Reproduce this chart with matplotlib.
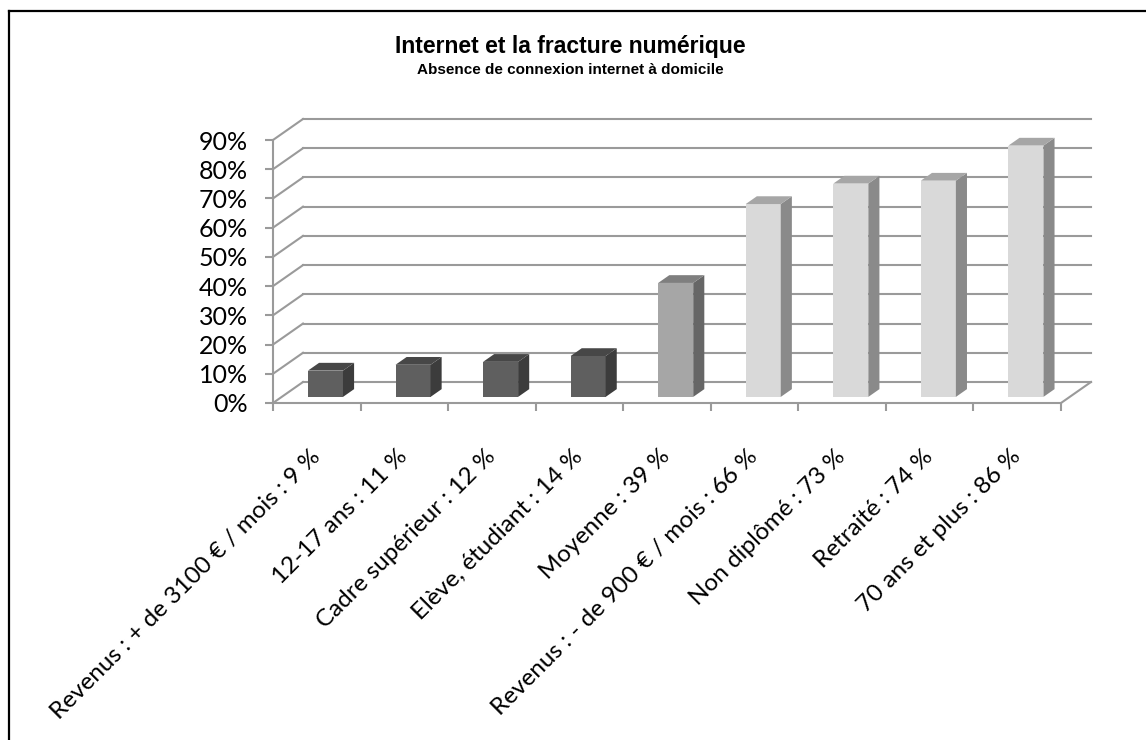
import matplotlib
matplotlib.use("Agg")
import matplotlib.pyplot as plt
from matplotlib.patches import Polygon
from matplotlib.lines import Line2D

# données
categories = ["Revenus : + de 3100 € / mois : 9 %", "12-17 ans : 11 %",
              "Cadre supérieur : 12 %", "Elève, étudiant : 14 %",
              "Moyenne : 39 %", "Revenus : - de 900 € / mois : 66 %",
              "Non diplômé : 73 %", "Retraité : 74 %", "70 ans et plus : 86 %"]
valeurs = [9, 11, 12, 14, 39, 66, 73, 74, 86]
groupes = ["bas", "bas", "bas", "bas", "moyenne", "haut", "haut", "haut", "haut"]
yticks = [0, 10, 20, 30, 40, 50, 60, 70, 80, 90]

# couleurs (face, côté, dessus)
couleurs = {
    "bas": ("#5f5f5f", "#3c3c3c", "#474747"),
    "moyenne": ("#a6a6a6", "#666666", "#7f7f7f"),
    "haut": ("#d9d9d9", "#8a8a8a", "#a6a6a6"),
}
grille = "#9a9a9a"

fig = plt.figure(figsize=(11.46, 7.40), dpi=100)
ax = fig.add_axes([273 / 1146, 1 - 403 / 740, 788 / 1146, 263 / 740])
n = len(valeurs)
ax.set_xlim(0, n)
ax.set_ylim(0, 90)

# décalage de profondeur (effet 3D)
dx = 30 / (788 / n)
dy = 21 / (263 / 90)

# murs : lignes de grille
for v in yticks:
    ax.plot([0, dx], [v, v + dy], color=grille, lw=1.5, clip_on=False, zorder=1)
    ax.plot([dx, n + dx], [v + dy, v + dy], color=grille, lw=1.5, clip_on=False, zorder=1)
ax.plot([n, n + dx], [0, dy], color=grille, lw=1.5, clip_on=False, zorder=1)

# barres
z0, z1 = 0.29, 0.66
for i, v in enumerate(valeurs):
    face, cote, dessus = couleurs[groupes[i]]
    x0, x1 = i + 0.30, i + 0.70
    front = Polygon([(x0 + z0 * dx, z0 * dy), (x1 + z0 * dx, z0 * dy),
                     (x1 + z0 * dx, v + z0 * dy), (x0 + z0 * dx, v + z0 * dy)],
                    closed=True, fc=face, ec="none", clip_on=False, zorder=3)
    side = Polygon([(x1 + z0 * dx, z0 * dy), (x1 + z1 * dx, z1 * dy),
                    (x1 + z1 * dx, v + z1 * dy), (x1 + z0 * dx, v + z0 * dy)],
                   closed=True, fc=cote, ec="none", clip_on=False, zorder=3)
    top = Polygon([(x0 + z0 * dx, v + z0 * dy), (x1 + z0 * dx, v + z0 * dy),
                   (x1 + z1 * dx, v + z1 * dy), (x0 + z1 * dx, v + z1 * dy)],
                  closed=True, fc=dessus, ec="none", clip_on=False, zorder=3)
    ax.add_patch(front)
    ax.add_patch(side)
    ax.add_patch(top)

# axes
for s in ["top", "right"]:
    ax.spines[s].set_visible(False)
for s in ["left", "bottom"]:
    ax.spines[s].set_color(grille)
    ax.spines[s].set_linewidth(1.5)
    ax.spines[s].set_zorder(2)

ax.set_yticks(yticks)
ax.set_yticklabels([f"{v}%" for v in yticks], fontsize=18, family="Lato")
ax.tick_params(axis="y", length=6, width=1.5, color=grille, pad=12)

ax.set_xticks(range(n + 1))
ax.set_xticklabels([])
ax.tick_params(axis="x", which="major", length=6, width=1.5, color=grille)
ax.set_xticks([i + 0.5 for i in range(n)], minor=True)
ax.set_xticklabels(categories, minor=True, rotation=45, ha="right", va="center",
                   rotation_mode="anchor", fontsize=17.5, family="Lato")
ax.tick_params(axis="x", which="minor", length=0, pad=36)
ax.patch.set_visible(False)

# titre
fig.text(570 / 1146, 1 - 46 / 740, "Internet et la fracture numérique",
         ha="center", va="center", fontsize=16.5, fontweight="bold",
         family="Liberation Sans")
fig.text(570 / 1146, 1 - 70 / 740, "Absence de connexion internet à domicile",
         ha="center", va="center", fontsize=11, fontweight="bold",
         family="Liberation Sans")

# cadre
fig.add_artist(Line2D([9 / 1146, 1], [1 - 11 / 740, 1 - 11 / 740], color="black", lw=1.6))
fig.add_artist(Line2D([9 / 1146, 9 / 1146], [0, 1 - 11 / 740], color="black", lw=1.6))

fig.savefig("out.png", dpi=100)
